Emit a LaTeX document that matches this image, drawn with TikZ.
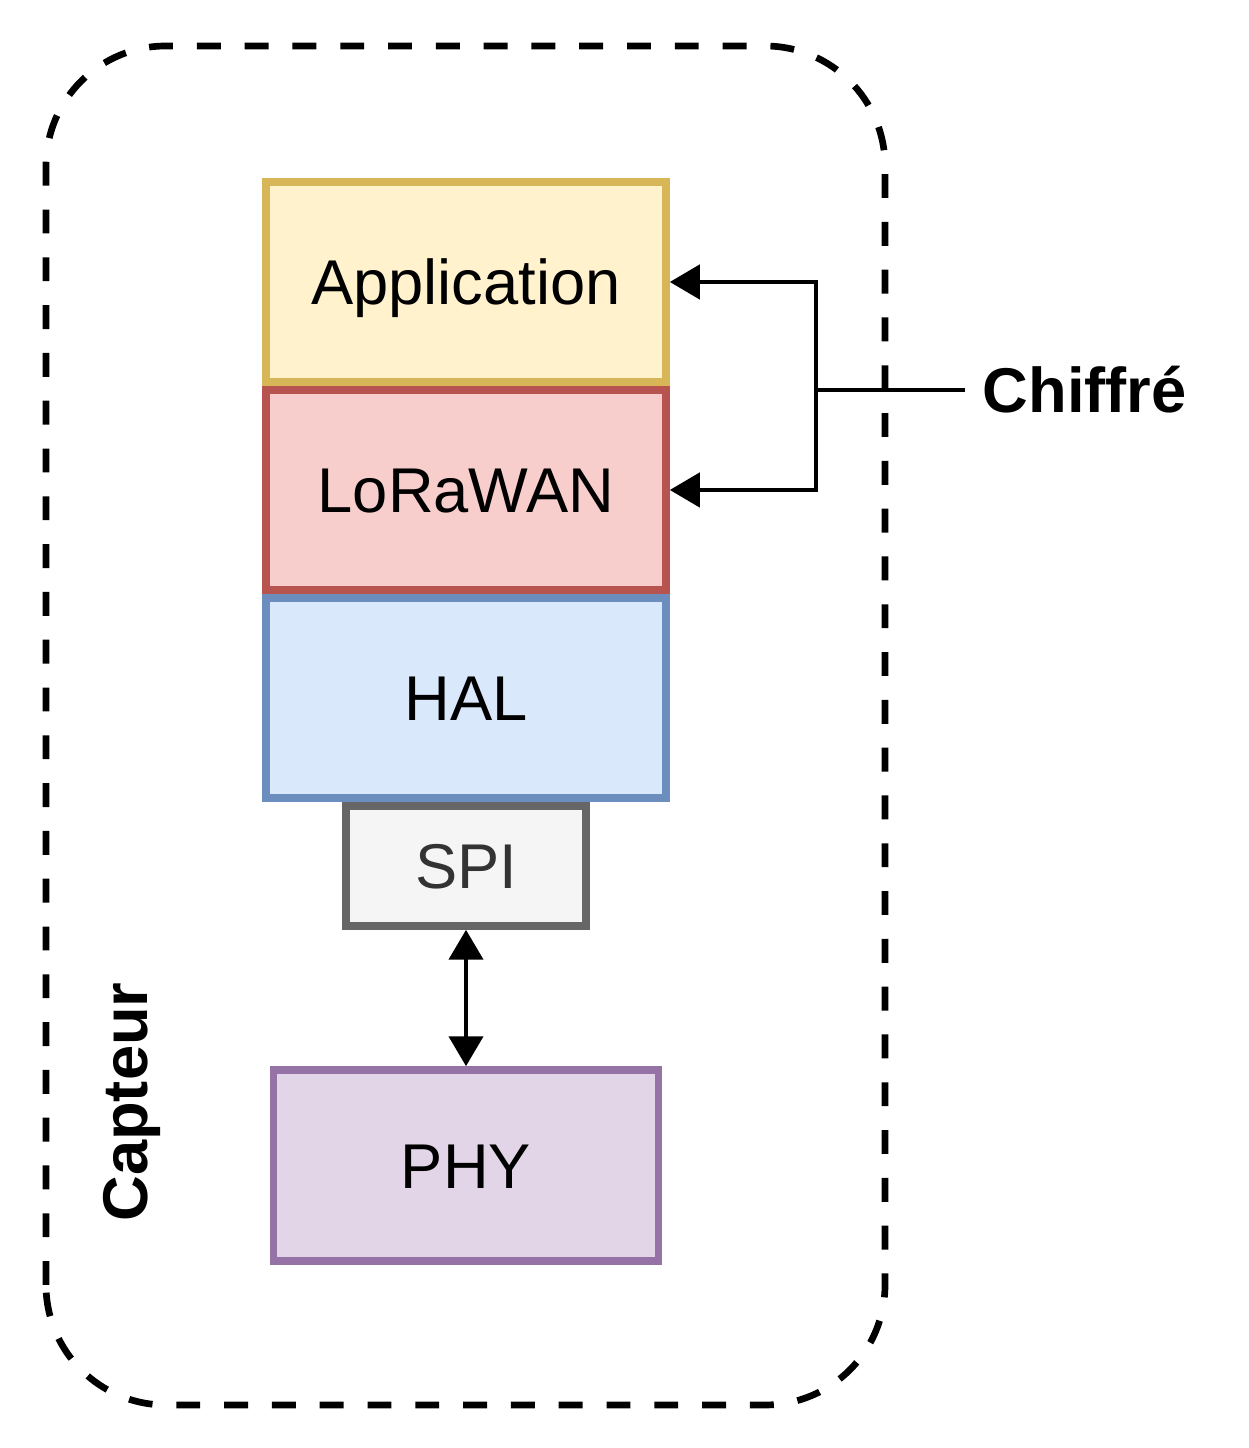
\documentclass[tikz,border=0pt]{standalone}
\usepackage{fontspec}
\setmainfont{Liberation Sans}
\definecolor{appline}{HTML}{D6B656}
\definecolor{appfill}{HTML}{FFF2CC}
\definecolor{loraline}{HTML}{B85450}
\definecolor{lorafill}{HTML}{F8CECC}
\definecolor{halline}{HTML}{6C8EBF}
\definecolor{halfill}{HTML}{DAE8FC}
\definecolor{spiline}{HTML}{666666}
\definecolor{spifill}{HTML}{F5F5F5}
\definecolor{spitext}{HTML}{333333}
\definecolor{phyline}{HTML}{9673A6}
\definecolor{phyfill}{HTML}{E1D5E7}
\usetikzlibrary{arrows.meta}

\begin{document}
\begin{tikzpicture}[
  layer/.style={draw, line width=4.4pt, minimum width=8cm, minimum height=4cm, inner sep=0pt,
    text height=25.8pt, text depth=0pt, font=\fontsize{36}{43}\selectfont},
  link/.style={line width=2pt},
  tip/.tip={Triangle[length=17pt, width=19.5pt]}
]
  \useasboundingbox (0, 0) rectangle (24.96, 28.96);

  % Sensor outline
  \draw[line width=3.8pt, dash pattern=on 13.6pt off 13.6pt, rounded corners=2.4cm] (0.92, 0.86) rectangle (17.7, 28.04);
  \node[rotate=90, anchor=base, font=\fontsize{36}{43}\selectfont\bfseries] (capteur) at (2.94, 6.92) {Capteur};

  % Protocol stack
  \node[layer, draw=appline, fill=appfill] (app) at (9.32, 23.32) {Application};
  \node[layer, draw=loraline, fill=lorafill] (lora) at (9.32, 19.16) {LoRaWAN};
  \node[layer, draw=halline, fill=halfill] (hal) at (9.32, 15.0) {HAL};
  \node[layer, draw=spiline, fill=spifill, text=spitext, minimum width=4.8cm, minimum height=2.4cm] (spi) at (9.32, 11.64) {SPI};
  \node[layer, draw=phyline, fill=phyfill, minimum width=7.7cm, minimum height=3.82cm] (phy) at (9.32, 5.65) {PHY};

  \draw[link, tip-tip] (spi.south) -- (phy.north);

  % Encrypted layers
  \node[anchor=west, inner xsep=10pt, inner ysep=0pt, text height=25.8pt, text depth=0pt,
    font=\fontsize{36}{43}\selectfont\bfseries] (chiffre) at (19.3, 21.16) {Chiffré};
  \coordinate (split) at (16.32, 21.16);
  \draw[link] (chiffre.west) -- (split);
  \draw[link, -tip] (split) |- (app.east);
  \draw[link, -tip] (split) |- (lora.east);
\end{tikzpicture}
\end{document}
